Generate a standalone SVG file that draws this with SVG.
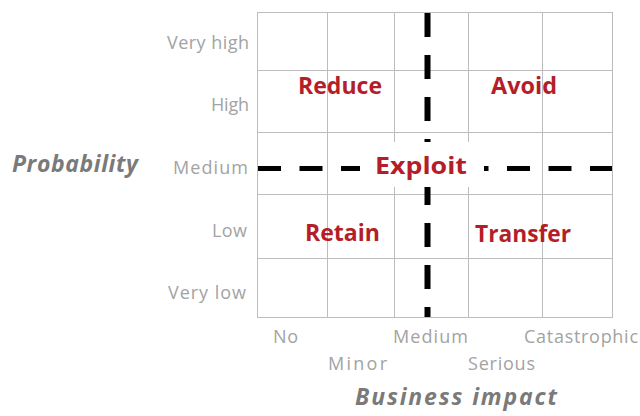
<svg xmlns="http://www.w3.org/2000/svg" width="640" height="416" viewBox="0 0 640 416">
<style>
.grid{stroke:#bdbdbd;stroke-width:1;fill:none}
.dash{stroke:#000;fill:none}
.lbl{font-family:"Open Sans","Liberation Sans",sans-serif;font-size:18px;fill:#a3a3a3}
.axis{font-family:"Open Sans","Liberation Sans",sans-serif;font-size:23px;font-weight:bold;font-style:italic;fill:#7a7a7a}
.zone{font-family:"Open Sans","Liberation Sans",sans-serif;font-size:23px;font-weight:bold;fill:#b41e28}
</style>
<rect width="640" height="416" fill="#fff"/>
<g id="grid">
<rect class="grid" x="257.5" y="12.5" width="355" height="305"/>
<path class="grid" d="M327.5 12.5V317.5M394.5 12.5V317.5M468.5 12.5V317.5M542.5 12.5V317.5M257.5 70.5H612.5M257.5 132.5H612.5M257.5 194.5H612.5M257.5 258.5H612.5"/>
</g>
<g id="connectors">
<line class="dash" x1="258" y1="168.5" x2="612" y2="168.5" stroke-width="5" stroke-dasharray="23 18.5"/>
<line class="dash" x1="427.5" y1="13" x2="427.5" y2="317" stroke-width="6" stroke-dasharray="24 18"/>
</g>
<g id="exploit">
<rect x="360" y="142" width="124" height="45" fill="#fff"/>
<text class="zone" x="375" y="174" font-size="26" textLength="92" lengthAdjust="spacingAndGlyphs">Exploit</text>
</g>
<g id="reduce"><text class="zone" x="298" y="94" textLength="84" lengthAdjust="spacingAndGlyphs">Reduce</text></g>
<g id="avoid"><text class="zone" x="491" y="94" textLength="66" lengthAdjust="spacingAndGlyphs">Avoid</text></g>
<g id="retain"><text class="zone" x="305" y="241" textLength="75" lengthAdjust="spacingAndGlyphs">Retain</text></g>
<g id="transfer"><text class="zone" x="475" y="242" textLength="96" lengthAdjust="spacingAndGlyphs">Transfer</text></g>
<g id="y-labels">
<text class="lbl" x="167" y="49" textLength="82">Very high</text>
<text class="lbl" x="211" y="111" textLength="38">High</text>
<text class="lbl" x="173" y="174" textLength="75">Medium</text>
<text class="lbl" x="212" y="237" textLength="35">Low</text>
<text class="lbl" x="168" y="299" textLength="78">Very low</text>
</g>
<g id="x-labels">
<text class="lbl" x="273" y="343" textLength="25">No</text>
<text class="lbl" x="393" y="343" textLength="75">Medium</text>
<text class="lbl" x="524" y="343" textLength="114">Catastrophic</text>
<text class="lbl" x="328" y="370" textLength="59">Minor</text>
<text class="lbl" x="468" y="370" textLength="67">Serious</text>
</g>
<g id="axis-titles">
<text class="axis" x="12" y="172" textLength="126">Probability</text>
<text class="axis" x="355" y="405" textLength="202">Business impact</text>
</g>
</svg>
